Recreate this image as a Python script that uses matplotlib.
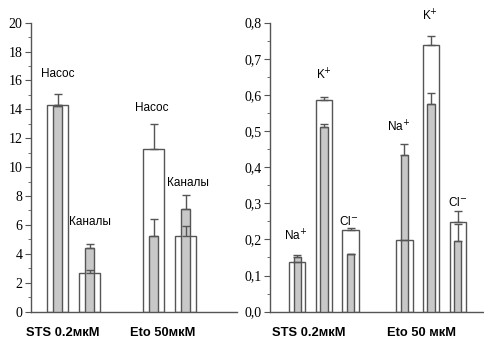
import matplotlib.pyplot as plt
from matplotlib.ticker import MultipleLocator, FuncFormatter

# left panel: pump vs channels
left_pos = [0, 1, 3, 4]
left_white = [14.3, 2.7, 11.25, 5.2]
left_white_err = [0.0, 0.15, 1.75, 0.7]
left_gray = [14.2, 4.4, 5.2, 7.1]
left_gray_err = [0.85, 0.3, 1.2, 1.0]
left_labels = ["Насос", "Каналы", "Насос", "Каналы"]

# right panel: ions
right_pos = [0, 1, 2, 4, 5, 6]
right_white = [0.137, 0.587, 0.225, 0.197, 0.737, 0.247]
right_white_err = [0.0, 0.008, 0.007, 0.0, 0.025, 0.031]
right_gray = [0.150, 0.510, 0.160, 0.433, 0.575, 0.195]
right_gray_err = [0.008, 0.010, 0.0, 0.032, 0.030, 0.048]
right_labels = ["Na$^{+}$", "K$^{+}$", "Cl$^{-}$", "Na$^{+}$", "K$^{+}$", "Cl$^{-}$"]

edge = "#555555"
gray = "#c8c8c8"

fig = plt.figure(figsize=(4.84, 3.38), dpi=100)
ax1 = fig.add_axes([0.064, 0.078, 0.426, 0.855])
ax2 = fig.add_axes([0.558, 0.078, 0.440, 0.855])


def draw(ax, pos, white, werr, gr, gerr, wwidth, gwidth):
    ax.bar(pos, white, width=wwidth, color="white", edgecolor=edge, linewidth=1, zorder=2)
    ax.bar(pos, gr, width=gwidth, color=gray, edgecolor=edge, linewidth=1, zorder=3)
    ax.errorbar(pos, gr, yerr=[[0] * len(gr), gerr], fmt="none", ecolor=edge,
                elinewidth=1, capsize=3, capthick=1, zorder=4)
    ax.errorbar(pos, white, yerr=[[0] * len(white), werr], fmt="none", ecolor=edge,
                elinewidth=1, capsize=3, capthick=1, zorder=4)
    for s in ["top", "right"]:
        ax.spines[s].set_visible(False)
    for s in ["left", "bottom"]:
        ax.spines[s].set_color(edge)
        ax.spines[s].set_linewidth(1)
    ax.tick_params(axis="x", length=0, pad=11)
    ax.tick_params(axis="y", which="major", length=4, color=edge, direction="out",
                   labelfontfamily="Liberation Serif", labelsize=10, pad=2)
    ax.tick_params(axis="y", which="minor", length=2, color=edge, direction="out")


ax1.set_xlim(-0.83, 5.61)
ax1.set_ylim(0, 20)
ax1.yaxis.set_major_locator(MultipleLocator(2))
ax1.yaxis.set_minor_locator(MultipleLocator(1))
ax1.set_xticks([0.17, 3.27])
ax1.set_xticklabels(["STS 0.2мкМ", "Eto 50мкМ"], family="Liberation Sans",
                    fontweight="bold", fontsize=9.3)
draw(ax1, left_pos, left_white, left_white_err, left_gray, left_gray_err, 0.68, 0.3)

lab_font = dict(ha="center", va="center", fontsize=8.5, family="Liberation Sans")
ax1.text(0.0, 16.45, left_labels[0], **lab_font)
ax1.text(1.0, 6.2, left_labels[1], **lab_font)
ax1.text(2.95, 14.1, left_labels[2], **lab_font)
ax1.text(4.08, 8.9, left_labels[3], **lab_font)

ax2.set_xlim(-1.01, 6.94)
ax2.set_ylim(0, 0.8)
ax2.yaxis.set_major_locator(MultipleLocator(0.1))
ax2.yaxis.set_minor_locator(MultipleLocator(0.05))
ax2.yaxis.set_major_formatter(FuncFormatter(lambda v, p: ("%.1f" % v).replace(".", ",")))
ax2.set_xticks([0.45, 4.63])
ax2.set_xticklabels(["STS 0.2мкМ", "Eto 50 мкМ"], family="Liberation Sans",
                    fontweight="bold", fontsize=9.3)
draw(ax2, right_pos, right_white, right_white_err, right_gray, right_gray_err, 0.62, 0.27)

right_xy = [(-0.07, 0.21), (1.0, 0.655), (1.94, 0.249), (3.8, 0.51), (4.96, 0.819), (6.0, 0.302)]
for (x, y), lab in zip(right_xy, right_labels):
    ax2.text(x, y, lab, clip_on=False, **lab_font)

fig.savefig("out.png", dpi=100)
